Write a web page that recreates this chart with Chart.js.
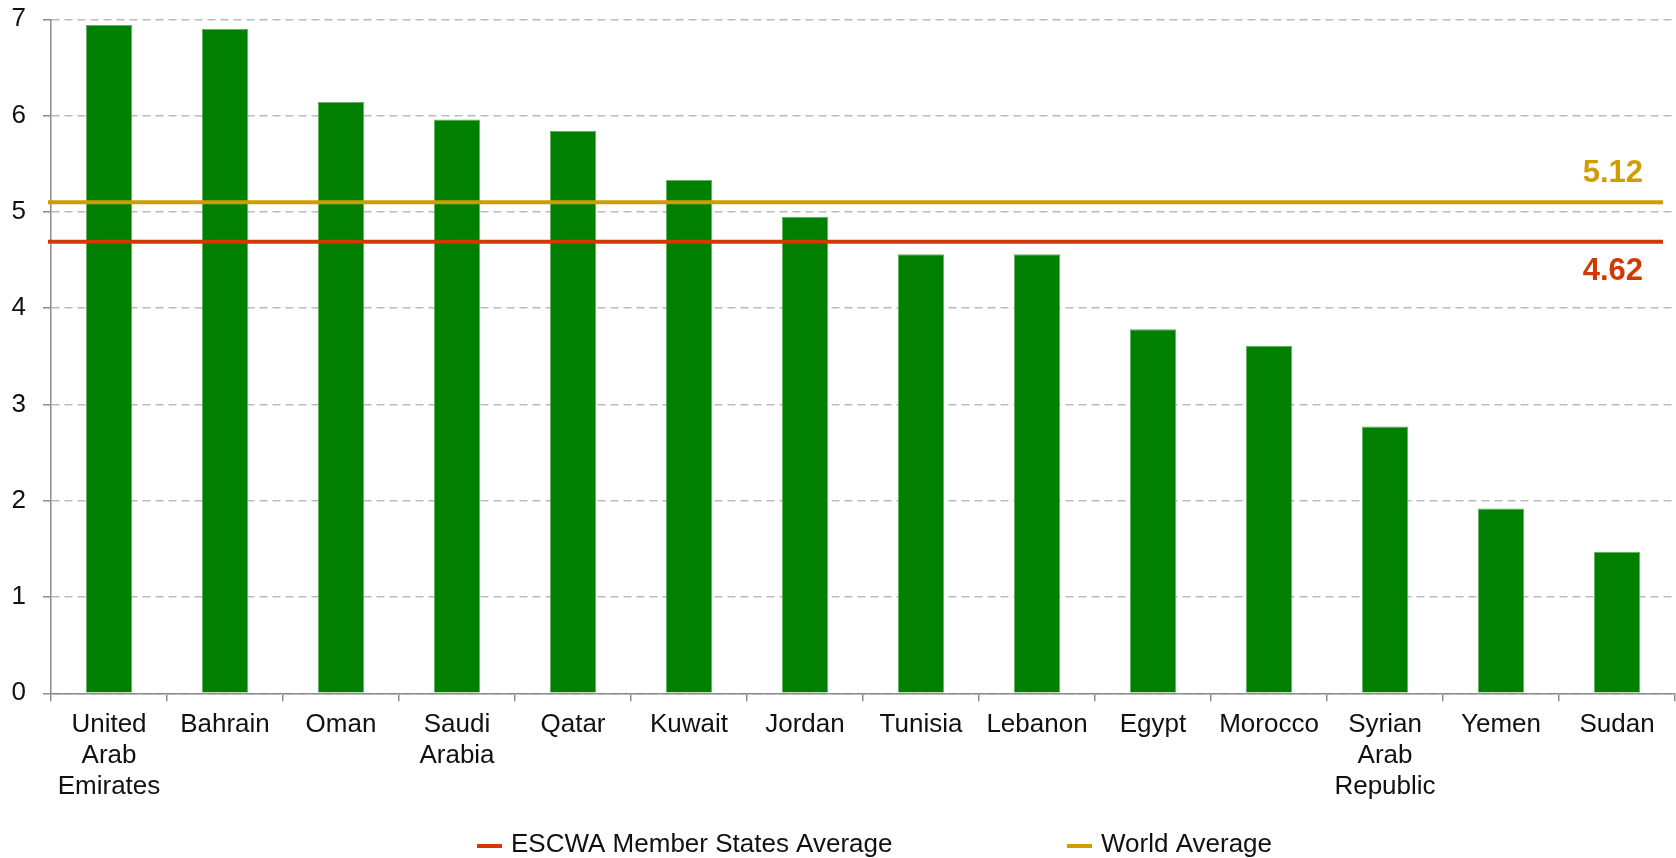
<!DOCTYPE html>
<html>
<head>
<meta charset="utf-8">
<script src="https://cdn.jsdelivr.net/npm/chart.js@4"></script>
<style>
  html, body { margin: 0; padding: 0; background: #fff; }
  #wrap { width: 1676px; height: 858px; }
</style>
</head>
<body>
<div id="wrap"><canvas id="chart" width="1676" height="858"></canvas></div>
<script>
const countries = [
  ["United", "Arab", "Emirates"], "Bahrain", "Oman", ["Saudi", "Arabia"], "Qatar",
  "Kuwait", "Jordan", "Tunisia", "Lebanon", "Egypt", "Morocco",
  ["Syrian", "Arab", "Republic"], "Yemen", "Sudan",
];
const scores = [6.94, 6.90, 6.14, 5.96, 5.84, 5.33, 4.95, 4.56, 4.56, 3.78, 3.61, 2.77, 1.92, 1.47];

const yMin = 0;
const yMax = 7;

// reference lines: where they sit on the axis, and the value printed next to them
const averageNames = ["ESCWA Member States Average", "World Average"];
const averageLevels = [4.69, 5.10];
const averageLabels = ["4.62", "5.12"];

const FONT = "'Liberation Sans', Arial, Helvetica, sans-serif";
const AVG_COLORS = ["#D23800", "#D09C00"];
const AXIS_GRAY = "#8c8c8c";
const LEGEND_X = [477, 1067];

const averageLines = {
  id: "averageLines",
  afterDatasetsDraw(chart) {
    const { ctx, chartArea: a, scales: { y } } = chart;
    const top = Math.max(...averageLevels);
    averageLevels.forEach((v, i) => {
      const py = y.getPixelForValue(v);
      ctx.save();
      ctx.strokeStyle = AVG_COLORS[i];
      ctx.lineWidth = 4;
      ctx.beginPath();
      ctx.moveTo(a.left - 3, py);
      ctx.lineTo(a.right - 12, py);
      ctx.stroke();
      ctx.fillStyle = AVG_COLORS[i];
      ctx.font = `bold 31px ${FONT}`;
      ctx.textAlign = "right";
      ctx.textBaseline = "middle";
      ctx.fillText(averageLabels[i], a.right - 32, v === top ? py - 29 : py + 30);
      ctx.restore();
    });
  },
};

const bottomLegend = {
  id: "bottomLegend",
  afterDraw(chart) {
    const { ctx } = chart;
    ctx.save();
    ctx.font = `26px ${FONT}`;
    ctx.textBaseline = "alphabetic";
    ctx.textAlign = "left";
    averageNames.forEach((name, i) => {
      ctx.fillStyle = AVG_COLORS[i];
      ctx.fillRect(LEGEND_X[i], 844, 25, 4);
      ctx.fillStyle = "#111";
      ctx.fillText(name, LEGEND_X[i] + 34, 852);
    });
    ctx.restore();
  },
};

new Chart(document.getElementById("chart"), {
  type: "bar",
  data: {
    labels: countries,
    datasets: [{
      data: scores,
      backgroundColor: "#007F00",
      borderColor: "#62B062",
      borderWidth: 1,
      barPercentage: 0.4,
      categoryPercentage: 1.0,
    }],
  },
  options: {
    responsive: false,
    animation: false,
    layout: { padding: { top: 19.3, right: 1, left: 0, bottom: 0 } },
    plugins: { legend: { display: false }, tooltip: { enabled: false } },
    scales: {
      x: {
        afterFit: (s) => { s.height = 164.7; },
        grid: { drawOnChartArea: false, drawTicks: true, tickLength: 8, color: AXIS_GRAY, lineWidth: 1.5 },
        border: { color: AXIS_GRAY, width: 1.5 },
        ticks: { color: "#111", padding: 8, maxRotation: 0, autoSkip: false, font: { family: FONT, size: 26, lineHeight: 1.2 } },
      },
      y: {
        min: yMin,
        max: yMax,
        afterFit: (s) => { s.width = 51; s.paddingTop = 0; s.paddingBottom = 0; },
        grid: { color: "#bcbcbc", lineWidth: 1.5, tickLength: 8, tickColor: AXIS_GRAY, tickWidth: 1.5 },
        border: { color: AXIS_GRAY, width: 1.5, dash: [8, 5] },
        ticks: { stepSize: 1, color: "#111", padding: 17, font: { family: FONT, size: 26 } },
      },
    },
  },
  plugins: [averageLines, bottomLegend],
});
</script>
</body>
</html>
